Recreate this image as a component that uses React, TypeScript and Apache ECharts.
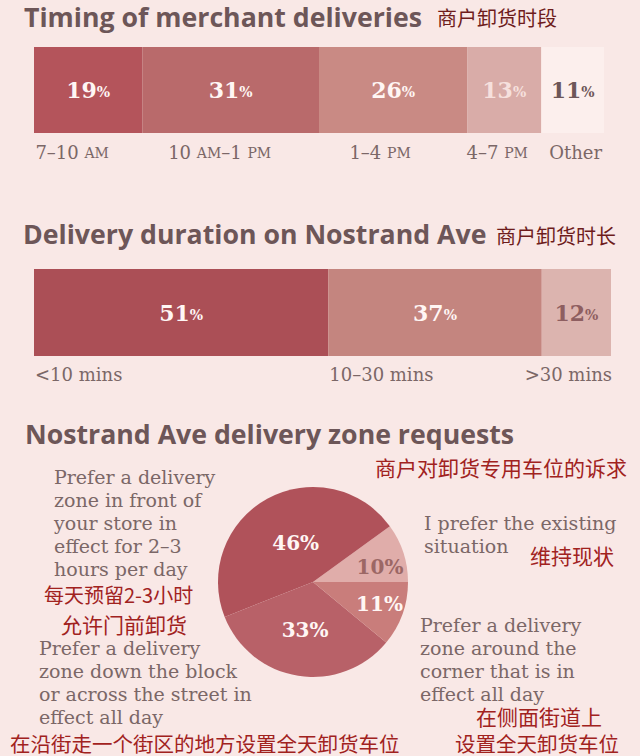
import React, { useEffect, useRef } from 'react';
import * as echarts from 'echarts';

// ---------- data ----------
const timingCategories = ['7–10 AM', '10 AM–1 PM', '1–4 PM', '4–7 PM', 'Other'];
const timingValues = [19, 31, 26, 13, 11];

const durationCategories = ['<10 mins', '10–30 mins', '>30 mins'];
const durationValues = [51, 37, 12];

const zoneNames = [
  'I prefer the existing situation',
  'Prefer a delivery zone in front of your store in effect for 2–3 hours per day',
  'Prefer a delivery zone down the block or across the street in effect all day',
  'Prefer a delivery zone around the corner that is in effect all day',
];
const zoneValues = [10, 46, 33, 11];

const titles = [
  'Timing of merchant deliveries',
  'Delivery duration on Nostrand Ave',
  'Nostrand Ave delivery zone requests',
];
const titlesZh = ['商户卸货时段', '商户卸货时长', '商户对卸货专用车位的诉求'];

// ---------- styles ----------
const BG = '#f9e8e6';
const TITLE_COLOR = '#6d5658';
const TEXT_COLOR = '#7b6767';
const ZH_DARK = '#6e1c1c';
const ZH_RED = '#a1221e';
const SANS = '"Open Sans", "DejaVu Sans", sans-serif';
const SERIF = '"DejaVu Serif", serif';
const CJK = '"Noto Sans CJK SC", sans-serif';

const timingColors = ['#b4545b', '#b96a6b', '#c98a84', '#d9aca8', '#fcefed'];
const timingLabelColors = ['#fff6f4', '#fff6f4', '#fff6f4', '#f6e0dd', '#6d5658'];
const timingNameShift = [-16, -11, -13, -7, 3];
const durationColors = ['#ab4f56', '#c4857f', '#dcb4af'];
const durationLabelColors = ['#fff6f4', '#fff6f4', '#8e5e60'];
const pieColors = ['#e0adaa', '#b0525a', '#b86168', '#c97d7b'];
const pieLabelColors = ['#9c6765', '#fff6f4', '#fff6f4', '#fff6f4'];

const pctRich = {
  n: { fontFamily: SERIF, fontWeight: 'bold', fontSize: 22 },
  p: { fontFamily: SERIF, fontWeight: 'bold', fontSize: 14, padding: [4, 0, 0, 0] },
};

const smallCaps = (s: string) => s.replace(/(AM|PM)/g, '{sc|$1}');
const nameRich = {
  sc: { fontFamily: SERIF, fontSize: 14, color: TEXT_COLOR, padding: [2, 0, 0, 0] },
};

export default function App() {
  const ref = useRef<HTMLDivElement>(null);

  useEffect(() => {
    if (!ref.current) return;
    const chart = echarts.init(ref.current, undefined, { renderer: 'svg' });

    const series: any[] = [];

    // Bar 1: timing
    timingValues.forEach((v, i) => {
      series.push({
        type: 'bar',
        name: timingCategories[i],
        stack: 'timing',
        xAxisIndex: 0,
        yAxisIndex: 0,
        barWidth: 86,
        barGap: '-100%',
        data: [v],
        silent: true,
        itemStyle: { color: timingColors[i] },
        label: {
          show: true,
          position: 'inside',
          color: timingLabelColors[i],
          formatter: (p: any) => `{n|${p.value}}{p|%}`,
          rich: pctRich,
        },
      });
    });
    timingValues.forEach((v, i) => {
      series.push({
        type: 'bar',
        name: timingCategories[i] + ' label',
        stack: 'timingNames',
        xAxisIndex: 0,
        yAxisIndex: 0,
        barWidth: 86,
        barGap: '-100%',
        data: [v],
        silent: true,
        itemStyle: { color: 'rgba(0,0,0,0)' },
        label: {
          show: true,
          position: ['50%', '100%'],
          align: 'center',
          verticalAlign: 'top',
          offset: [timingNameShift[i], 10],
          fontFamily: SERIF,
          fontSize: 18,
          color: TEXT_COLOR,
          formatter: () => smallCaps(timingCategories[i]),
          rich: nameRich,
        },
      });
    });

    // Bar 2: duration
    durationValues.forEach((v, i) => {
      series.push({
        type: 'bar',
        name: durationCategories[i],
        stack: 'duration',
        xAxisIndex: 1,
        yAxisIndex: 1,
        barWidth: 87,
        barGap: '-100%',
        data: [v],
        silent: true,
        itemStyle: { color: durationColors[i] },
        label: {
          show: true,
          position: 'inside',
          color: durationLabelColors[i],
          formatter: (p: any) => `{n|${p.value}}{p|%}`,
          rich: pctRich,
        },
      });
    });
    durationValues.forEach((v, i) => {
      const last = i === durationValues.length - 1;
      series.push({
        type: 'bar',
        name: durationCategories[i] + ' label',
        stack: 'durationNames',
        xAxisIndex: 1,
        yAxisIndex: 1,
        barWidth: 87,
        barGap: '-100%',
        data: [v],
        silent: true,
        itemStyle: { color: 'rgba(0,0,0,0)' },
        label: {
          show: true,
          position: last ? ['100%', '100%'] : [0, '100%'],
          align: last ? 'right' : 'left',
          verticalAlign: 'top',
          offset: [1, 9],
          fontFamily: SERIF,
          fontSize: 18,
          color: TEXT_COLOR,
          formatter: () => durationCategories[i],
        },
      });
    });

    // Pie: zone requests
    const pieOffsets = [
      { dx: 19, dy: 1 },
      { dx: 7, dy: 5 },
      { dx: 0, dy: -2 },
      { dx: 19, dy: 5 },
    ];
    series.push({
      type: 'pie',
      center: [313, 582],
      radius: 95,
      startAngle: 0,
      clockwise: false,
      silent: true,
      avoidLabelOverlap: false,
      itemStyle: { borderWidth: 0 },
      labelLine: { show: false },
      label: {
        show: true,
        position: 'inside',
        fontFamily: SERIF,
        fontWeight: 'bold',
        fontSize: 20,
        formatter: (p: any) => `${p.value}%`,
      },
      labelLayout: (p: any) => pieOffsets[p.dataIndex],
      data: zoneValues.map((v, i) => ({
        value: v,
        name: zoneNames[i],
        itemStyle: { color: pieColors[i] },
        label: { color: pieLabelColors[i] },
      })),
    });

    const txt = (text: string, x: number, y: number, opts: any = {}) => ({
      type: 'text',
      x,
      y,
      silent: true,
      style: {
        text,
        fontFamily: SERIF,
        fontSize: 19,
        fill: TEXT_COLOR,
        verticalAlign: 'top',
        lineHeight: 23,
        ...opts,
      },
    });

    const titleStyle = {
      fontFamily: SANS,
      fontWeight: 'bold',
      fontSize: 26.7,
      fill: TITLE_COLOR,
      verticalAlign: 'middle',
      lineHeight: 27,
    };
    const zh = (size: number, color: string) => ({
      fontFamily: CJK,
      fontSize: size,
      fill: color,
      verticalAlign: 'middle',
      lineHeight: size,
    });

    const graphic = [
      txt(titles[0], 24, 16.5, titleStyle),
      txt(titlesZh[0], 437, 17, zh(20, ZH_DARK)),
      txt(titles[1], 23, 233, titleStyle),
      txt(titlesZh[1], 496, 235, zh(20, ZH_DARK)),
      txt(titles[2], 25, 433, titleStyle),
      txt(titlesZh[2], 375, 467, zh(21, ZH_RED)),

      txt('Prefer a delivery\nzone in front of\nyour store in\neffect for 2–3\nhours per day', 54, 465),
      txt('每天预留2-3小时', 44, 594, zh(20, ZH_RED)),
      txt('允许门前卸货', 61, 624, zh(21, ZH_RED)),
      txt('Prefer a delivery\nzone down the block\nor across the street in\neffect all day', 39, 636),
      txt('在沿街走一个街区的地方设置全天卸货车位', 10, 743, zh(20.5, ZH_RED)),

      txt('I prefer the existing\nsituation', 424, 511),
      txt('维持现状', 530, 555, zh(21, ZH_RED)),
      txt('Prefer a delivery\nzone around the\ncorner that is in\neffect all day', 420, 613),
      txt('在侧面街道上', 476, 716, zh(21, ZH_RED)),
      txt('设置全天卸货车位', 455, 743, zh(20.5, ZH_RED)),
    ];

    chart.setOption({
      animation: false,
      backgroundColor: BG,
      grid: [
        { left: 34, top: 47, width: 570, height: 86 },
        { left: 34, top: 269, width: 577, height: 87 },
      ],
      xAxis: [
        { type: 'value', gridIndex: 0, min: 0, max: 100, show: false },
        { type: 'value', gridIndex: 1, min: 0, max: 100, show: false },
      ],
      yAxis: [
        { type: 'category', gridIndex: 0, data: ['timing'], show: false },
        { type: 'category', gridIndex: 1, data: ['duration'], show: false },
      ],
      series,
      graphic,
    });

    return () => chart.dispose();
  }, []);

  return (
    <div
      ref={ref}
      style={{ position: 'fixed', left: 0, top: 0, width: 640, height: 756, background: BG }}
    />
  );
}
